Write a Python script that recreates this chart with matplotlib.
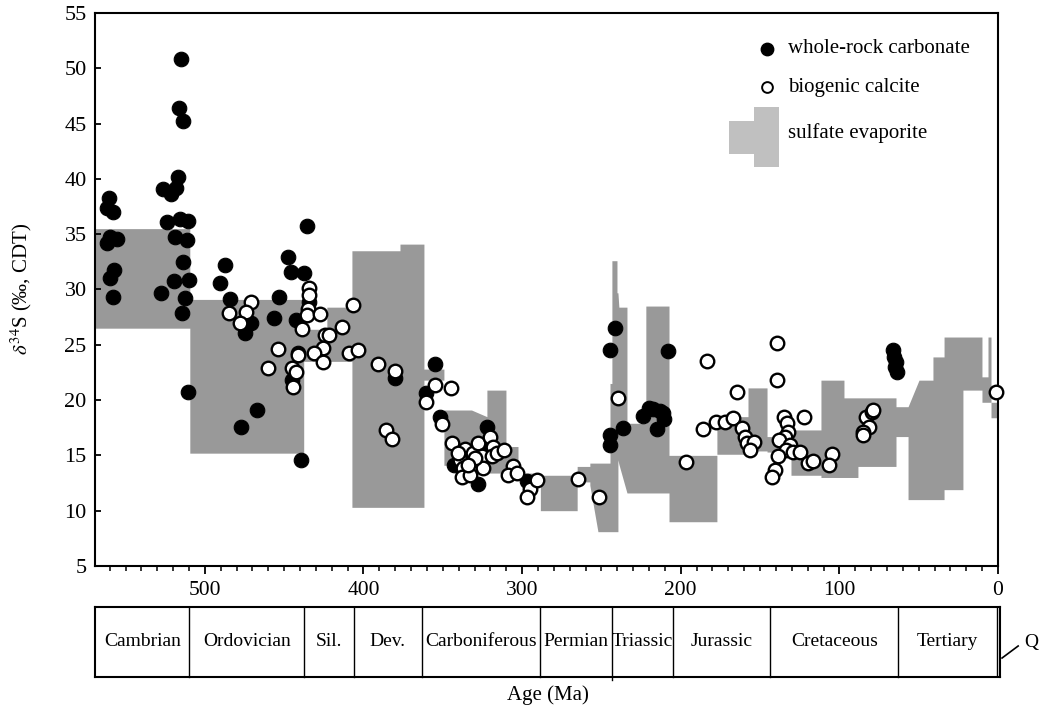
import matplotlib
matplotlib.use("Agg")
import matplotlib.pyplot as plt
from matplotlib.patches import Polygon
from matplotlib.lines import Line2D

plt.rcParams['font.family'] = ['Liberation Serif', 'DejaVu Serif']
plt.rcParams['mathtext.fontset'] = 'stix'

# sulfate evaporite band: age (Ma), lower and upper d34S edge
evap_age = [569, 509.5, 509.5, 437.7, 437.7, 423.1, 423.1, 407.3, 407.3, 377, 377, 361.9,
            361.9, 349.3, 349.3, 331.9, 322.2, 322.2, 310.2, 310.2, 302.6, 302.6, 288.5,
            288.5, 265.3, 265.3, 257.3, 257.3, 252.2, 244.6, 244.6, 243.4, 243.4, 240.2,
            240.2, 239.6, 239.6, 239.0, 233.9, 233.9, 222, 222, 207.4, 207.4, 177.2, 177.2,
            157.6, 157.6, 145.6, 145.6, 130.5, 130.5, 111.6, 111.6, 97.1, 97.1, 88.3, 88.3,
            64.3, 64.3, 56.7, 56.7, 49.8, 41, 41, 34, 34, 22.1, 22.1, 10.1, 10.1, 6.3, 6.3,
            4.4, 4.4, 0.6]
evap_low = [26.5, 26.5, 15.2, 15.2, 23.5, 23.5, 23.5, 23.5, 10.3, 10.3, 10.3, 10.3,
            21.8, 21.8, 14.1, 14.1, 14.1, 13.4, 13.4, 13.4, 13.4, 12.9, 12.9,
            10.0, 10.0, 12.6, 12.6, 12.3, 8.1, 8.1, 8.1, 8.1, 8.1, 8.1,
            8.1, 8.1, 14.6, 14.2, 11.6, 11.6, 11.6, 11.6, 11.6, 9.0, 9.0, 15.1,
            15.1, 15.4, 15.4, 15.3, 15.3, 13.2, 13.2, 13.0, 13.0, 13.0, 13.0, 14.0,
            14.0, 16.7, 16.7, 11.0, 11.0, 11.0, 11.0, 11.0, 11.9, 11.9, 20.9, 20.9, 19.8, 19.8, 19.8,
            19.8, 18.4, 18.4]
evap_high = [35.5, 35.5, 29.1, 29.1, 26.4, 26.4, 28.4, 28.4, 33.5, 33.5, 34.1, 34.1,
             22.8, 22.8, 19.1, 19.1, 18.5, 20.9, 20.9, 15.8, 15.8, 13.4, 13.4,
             13.2, 13.2, 14.0, 14.0, 14.3, 14.3, 14.3, 21.5, 21.5, 32.6, 32.6,
             29.7, 29.7, 29.7, 28.4, 28.4, 17.9, 17.9, 28.5, 28.5, 15.0, 15.0, 18.5,
             18.5, 21.1, 21.1, 16.7, 16.7, 17.3, 17.3, 21.8, 21.8, 20.2, 20.2, 20.2,
             20.2, 19.4, 19.4, 19.4, 21.8, 21.8, 23.9, 23.9, 25.7, 25.7, 25.7, 25.7, 22.1, 22.1, 25.7,
             25.7, 19.8, 19.8]

# whole-rock carbonate
wr_age = [515.1, 516.4, 513.9, 517, 526.5, 521.5, 518.2, 560.5, 561.8, 558, 524, 515.8, 510.8,
          559.9, 555.4, 561.8, 518.9, 511.4, 557.4, 559.9, 513.9, 558, 527.7, 519.5, 510.1,
          512.6, 514.5,
          487.3, 490.3, 484.2, 447.7, 445.8, 437.6, 453.4, 456.5, 442.7, 471, 474.8, 434.4,
          441.4, 445.2, 510.8, 467.2, 477.3, 439.4, 435.7,
          355, 380.2, 360.7, 351.9, 322.2, 323.4, 343, 327.9, 297,
          241.5, 244.6, 236.5, 244.6, 244.6, 223.9, 220, 213.2, 210.6, 215, 208.1, 217.5, 211.2,
          66.2, 65.6, 64.4, 63.7, 65]
wr_d34s = [50.8, 46.4, 45.2, 40.2, 39.1, 38.6, 39.2, 38.3, 37.4, 37.0, 36.1, 36.4, 36.2,
           34.7, 34.6, 34.2, 34.7, 34.5, 31.8, 31.0, 32.5, 29.3, 29.7, 30.8, 30.9,
           29.2, 27.9,
           32.2, 30.6, 29.1, 32.9, 31.6, 31.5, 29.3, 27.4, 27.2, 27.0, 26.1, 28.9,
           24.3, 21.8, 20.7, 19.1, 17.6, 14.6, 35.7,
           23.3, 22.0, 20.6, 18.5, 17.6, 15.8, 14.1, 12.4, 12.7,
           26.5, 24.5, 17.5, 16.8, 15.9, 18.6, 19.3, 19.0, 18.3, 17.4, 24.4, 19.2, 18.8,
           24.5, 23.9, 23.4, 22.5, 23.0]

# biogenic calcite
bc_age = [471, 484.8, 474.1, 478, 434.4, 434.4, 435.1, 435.8, 427.5, 406.7, 438.8, 424.3,
          421.7, 413.6, 425.6, 431.3, 454, 441.4, 409.2, 403.5, 425.6, 460.3, 445.2, 442.7,
          444.5, 390.9, 380.2, 385.9, 382.1, 355, 344.9, 360.7, 350.6, 344.3,
          336, 339.3, 337.4, 338, 332.9, 331, 327.9, 325.3, 324.7, 320.3, 318.4, 319.1, 315.9,
          311.5, 329.8, 334.2, 305.8, 309, 303.3, 295.1, 297, 290.6, 264.8, 251.6, 239.6, 340.5,
          196.7, 183.5, 164.5, 186, 177.9, 172.1, 167.1, 161.4, 159.5, 158.3, 153.8, 156.4,
          139.3, 139.3, 135, 133.1, 132.5, 134.3, 138.1, 131.1, 133.7, 129.2, 124.9, 138.7,
          119.8, 116.6, 140.6, 142.5, 122.4, 104.7, 106.5, 83.2, 79.5, 78.8, 81.3, 85.1, 85.1,
          1.3]
bc_d34s = [28.9, 27.9, 28.0, 27.0, 30.1, 29.5, 28.2, 27.7, 27.8, 28.6, 26.4, 25.9,
           25.9, 26.6, 24.7, 24.3, 24.6, 24.1, 24.3, 24.5, 23.4, 22.9, 22.9, 22.5,
           21.2, 23.3, 22.6, 17.3, 16.5, 21.4, 21.1, 19.8, 17.8, 16.1,
           15.6, 14.6, 13.9, 13.0, 13.2, 15.2, 16.1, 14.9, 13.9, 16.7, 15.8, 14.9, 15.2,
           15.5, 14.8, 14.1, 14.0, 13.2, 13.4, 12.0, 11.2, 12.8, 12.9, 11.2, 20.2, 15.2,
           14.4, 23.5, 20.7, 17.4, 18.0, 18.0, 18.4, 17.5, 16.7, 16.1, 16.2, 15.5,
           25.2, 21.8, 18.5, 17.9, 17.1, 16.7, 16.4, 15.9, 15.5, 15.3, 15.3, 14.9,
           14.3, 14.5, 13.7, 13.0, 18.5, 15.1, 14.1, 18.5, 18.9, 19.1, 17.6, 17.1, 16.8,
           20.7]

# geological periods
period_names = ["Cambrian", "Ordovician", "Sil.", "Dev.", "Carboniferous", "Permian",
                "Triassic", "Jurassic", "Cretaceous", "Tertiary"]
period_bounds = [569.3, 509.7, 437.6, 406, 363.3, 288.6, 243.3, 205.1, 143.4, 62.9, 0.8]

fig = plt.figure(figsize=(10.4, 7.12), dpi=100)
ax = fig.add_axes([0.0913, 0.2051, 0.8683, 0.7767])

ax.fill_between(evap_age, evap_low, evap_high, color='#999999', lw=0, zorder=1)
ax.scatter(wr_age, wr_d34s, s=110, c='black', edgecolors='black', linewidths=0.8, zorder=3)
ax.scatter(bc_age, bc_d34s, s=95, c='white', edgecolors='black', linewidths=1.7, zorder=4,
           clip_on=False)

ax.set_xlim(569.3, 0)
ax.set_ylim(5, 55)
ax.set_xticks(range(0, 600, 100))
ax.set_xticks(range(0, 570, 10), minor=True)
ax.set_yticks(range(5, 60, 5))
ax.tick_params(axis='x', which='major', direction='out', length=6, width=1.3, labelsize=15.5, pad=5)
ax.tick_params(axis='x', which='minor', direction='out', length=3.5, width=1.1)
ax.tick_params(axis='y', which='major', direction='in', length=4, width=1.3, labelsize=16, pad=6)
for sp in ax.spines.values():
    sp.set_linewidth(1.5)

ax.set_ylabel(r'$\delta^{34}$S (‰, CDT)', fontsize=15)
ax.yaxis.set_label_coords(-0.068, 0.5)

# legend drawn by hand
ax.scatter([0.744], [0.935], s=80, c='black', transform=ax.transAxes, clip_on=False, zorder=5)
ax.scatter([0.744], [0.866], s=60, c='white', edgecolors='black', linewidths=1.4,
           transform=ax.transAxes, clip_on=False, zorder=5)
leg_patch = Polygon([(0.7018, 0.805), (0.7295, 0.805), (0.7295, 0.830), (0.7572, 0.830),
                     (0.7572, 0.7215), (0.7295, 0.7215), (0.7295, 0.745), (0.7018, 0.745)],
                    closed=True, transform=ax.transAxes, facecolor='#c0c0c0', edgecolor='none')
ax.add_patch(leg_patch)
ax.text(0.767, 0.935, "whole-rock carbonate", transform=ax.transAxes, va='center', fontsize=15)
ax.text(0.767, 0.866, "biogenic calcite", transform=ax.transAxes, va='center', fontsize=15)
ax.text(0.767, 0.783, "sulfate evaporite", transform=ax.transAxes, va='center', fontsize=15)

# period bar
bx = fig.add_axes([0.0913, 0.0492, 0.8702, 0.0983])
bx.set_xlim(569.3, -1.3)
bx.set_ylim(0, 1)
bx.set_xticks([])
bx.set_yticks([])
for sp in bx.spines.values():
    sp.set_linewidth(1.5)
for i, name in enumerate(period_names):
    a0, a1 = period_bounds[i], period_bounds[i + 1]
    bx.text((a0 + a1) / 2, 0.5, name, ha='center', va='center', fontsize=14)
    if i > 0:
        ext = -0.05 if name == "Triassic" else 0
        bx.plot([a0, a0], [ext, 1], color='black', lw=1.0, clip_on=False)
bx.plot([period_bounds[-1], period_bounds[-1]], [0, 1], color='black', lw=1.0)
bx.set_xlabel("Age (Ma)", fontsize=15, labelpad=6)

fig.add_artist(Line2D([0.9635, 0.979], [0.0758, 0.0927], color='black', lw=1.2))
fig.text(0.9915, 0.0983, "Q", ha='center', va='center', fontsize=14)

fig.savefig("out.png", dpi=100)
